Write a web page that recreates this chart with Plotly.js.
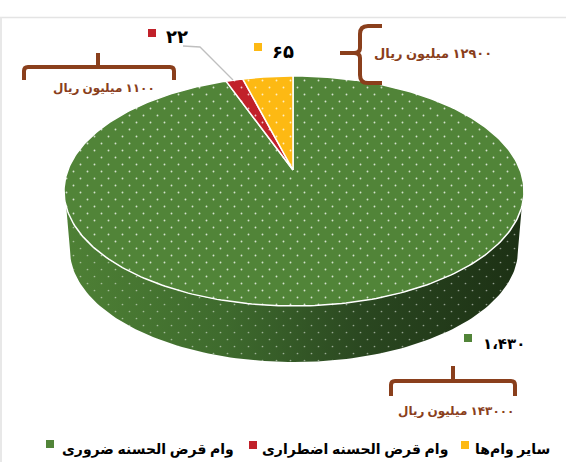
<!DOCTYPE html>
<html><head><meta charset="utf-8">
<script src="https://cdn.plot.ly/plotly-3.0.1.min.js"></script>
<style>html,body{margin:0;padding:0;background:#fff}</style>
</head><body><div id="chart" style="width:566px;height:462px"></div>
<script>
// Data
const categories = ['سایر وام‌ها', 'وام قرض الحسنه اضطراری', 'وام قرض الحسنه ضروری'];
const values = [65, 22, 1430];
const colors = ['#fdb913', '#c1212a', '#518438'];
const valueLabels = ['۶۵', '۲۲', '۱،۴۳۰'];
const amountLabels = ['\u200F۱۲۹۰۰ میلیون ریال', '\u200F۱۱۰۰ میلیون ریال', '\u200F۱۴۳۰۰۰ میلیون ریال'];

// Projected pie geometry (axes run in page pixels)
const C = {x: 294, y: 191, rx: 230, ry: 115};
const B = {x: 294, y: 250, rx: 224, ry: 112};
const apex = {x: 293, y: 170};
const total = values.reduce((a, b) => a + b, 0);

function rim(theta) { // perspective ray from the apex to the rim; theta counter-clockwise from 12 o'clock
  const dx = -2 * Math.sin(theta), dy = -Math.cos(theta);
  const px = (apex.x - C.x) / C.rx, py = (apex.y - C.y) / C.ry;
  const qx = dx / C.rx, qy = dy / C.ry;
  const a = qx * qx + qy * qy, b = 2 * (px * qx + py * qy), c = px * px + py * py - 1;
  const s = (-b + Math.sqrt(b * b - 4 * a * c)) / (2 * a);
  return [apex.x + s * dx, apex.y + s * dy];
}
const traces = [];

// Side wall
const tc = Math.asin(16 / C.ry), sx = [], sy = [];
for (let i = 0; i <= 120; i++) { const t = tc + (Math.PI - 2 * tc) * i / 120; sx.push(C.x + C.rx * Math.cos(t)); sy.push(C.y + C.ry * Math.sin(t)); }
for (let i = 0; i <= 120; i++) { const t = Math.PI - Math.PI * i / 120; sx.push(B.x + B.rx * Math.cos(t)); sy.push(B.y + B.ry * Math.sin(t)); }
sx.push(sx[0]); sy.push(sy[0]);
traces.push({type: 'scatter', mode: 'lines', x: sx, y: sy, fill: 'toself', line: {width: 0, color: 'rgba(0,0,0,0)'},
  fillgradient: {type: 'horizontal', colorscale: [[0, '#4e8035'], [0.35, '#3e6a2d'], [0.65, '#2a4720'], [1, '#1c3014']]},
  hoverinfo: 'skip', showlegend: false});
traces.push({type: 'scatter', mode: 'lines', x: sx, y: sy, fill: 'toself', line: {width: 0, color: 'rgba(0,0,0,0)'},
  fillcolor: 'rgba(0,0,0,0)',
  fillpattern: {shape: '.', size: 14, solidity: 0.012, fgcolor: '#ffffff', fgopacity: 0.5, bgcolor: 'rgba(0,0,0,0)'},
  hoverinfo: 'skip', showlegend: false});

// Top face slices, drawn largest first so the small wedges sit on top
let start = 0; const slices = [];
values.forEach((v, i) => {
  const sweep = 2 * Math.PI * v / total, xs = [apex.x], ys = [apex.y], n = Math.max(4, Math.ceil(sweep * 60));
  for (let k = 0; k <= n; k++) { const p = rim(start + sweep * k / n); xs.push(p[0]); ys.push(p[1]); }
  xs.push(apex.x); ys.push(apex.y);
  slices.push({type: 'scatter', mode: 'lines', x: xs, y: ys, name: categories[i], fill: 'toself',
    line: {color: '#ffffff', width: 1.5}, fillcolor: colors[i],
    fillpattern: {shape: '.', size: 14, solidity: 0.014, fgcolor: '#ffffff', fgopacity: 0.75, bgcolor: colors[i]},
    hoverinfo: 'name', showlegend: false});
  start += sweep;
});
traces.push(slices[2], slices[1], slices[0]);

// Leader line of the small slice
traces.push({type: 'scatter', mode: 'lines', x: [183, 200, 233], y: [46, 47, 80], line: {color: '#bfbfbf', width: 1.3}, hoverinfo: 'skip', showlegend: false});

// Square keys: next to value labels and in the legend row
const keyX = [258, 152, 468], keyY = [47, 33, 338], legX = [465, 253, 50], legY = [445, 445, 444];
values.forEach((v, i) => traces.push({type: 'scatter', mode: 'markers', x: [keyX[i], legX[i]], y: [keyY[i], legY[i]],
  marker: {symbol: 'square', size: 8, color: colors[i]}, hoverinfo: 'skip', showlegend: false}));

const font = 'Noto Sans, DejaVu Sans, sans-serif';
const brown = '#8a3f1c';
function txt(x, y, text, size, color, anchor) {
  return {xref: 'x', yref: 'y', x, y, text, showarrow: false, xanchor: anchor || 'center', yanchor: 'middle',
    font: {family: font, size, color, weight: 'bold'}};
}
const annotations = [
  txt(283, 51, valueLabels[0], 18, '#000', 'center'),
  txt(177, 36, valueLabels[1], 18, '#000', 'center'),
  txt(504, 343, valueLabels[2], 15, '#000', 'center'),
  txt(433, 53, amountLabels[0], 13, brown, 'center'),
  txt(104, 87, amountLabels[1], 12, brown, 'center'),
  txt(456, 410, amountLabels[2], 12, brown, 'center'),
  txt(512, 448, categories[0], 14, '#000', 'center'),
  txt(355, 448, categories[1], 14, '#000', 'center'),
  txt(148, 448, categories[2], 14, '#000', 'center')
];
function path(d, w) { return {type: 'path', xref: 'x', yref: 'y', path: d, line: {color: brown, width: w}, fillcolor: 'rgba(0,0,0,0)', layer: 'above'}; }
const shapes = [
  {type: 'line', xref: 'x', yref: 'y', x0: 0, x1: 566, y0: 17.5, y1: 17.5, line: {color: '#e4e4e4', width: 1.5}},
  {type: 'line', xref: 'x', yref: 'y', x0: 1, x1: 1, y0: 17.5, y1: 462, line: {color: '#e8e8e8', width: 2}},
  path('M24,80 L24,71 Q24,67 28,67 L170,67 Q174,67 174,71 L174,80', 4),
  path('M98,53 L98,67', 4),
  path('M382,26 L368,26 Q360,26 360,34 L360,48 Q360,53 354,53 L340,53 M354,53 Q360,53 360,58 L360,75 Q360,83 368,83 L382,83', 4),
  path('M391,396 L391,385 Q391,381 395,381 L511,381 Q515,381 515,385 L515,396', 4),
  path('M453,366 L453,381', 4)
];
const layout = {width: 566, height: 462, margin: {l: 0, r: 0, t: 0, b: 0}, paper_bgcolor: '#fff', plot_bgcolor: '#fff',
  xaxis: {range: [0, 566], visible: false, fixedrange: true}, yaxis: {range: [462, 0], visible: false, fixedrange: true},
  showlegend: false, annotations, shapes};
Plotly.newPlot('chart', traces, layout, {displayModeBar: false, staticPlot: true}).then(() => {
  // stagger the dot lattice: add a second dot per pattern tile
  document.querySelectorAll('pattern').forEach(p => {
    const c = p.querySelector('circle'); if (!c) return;
    const s = parseFloat(p.getAttribute('width')); const d = c.cloneNode(true);
    c.setAttribute('cx', s / 4); c.setAttribute('cy', s / 4);
    d.setAttribute('cx', 3 * s / 4); d.setAttribute('cy', 3 * s / 4); c.parentNode.appendChild(d);
  });
});
</script></body></html>
